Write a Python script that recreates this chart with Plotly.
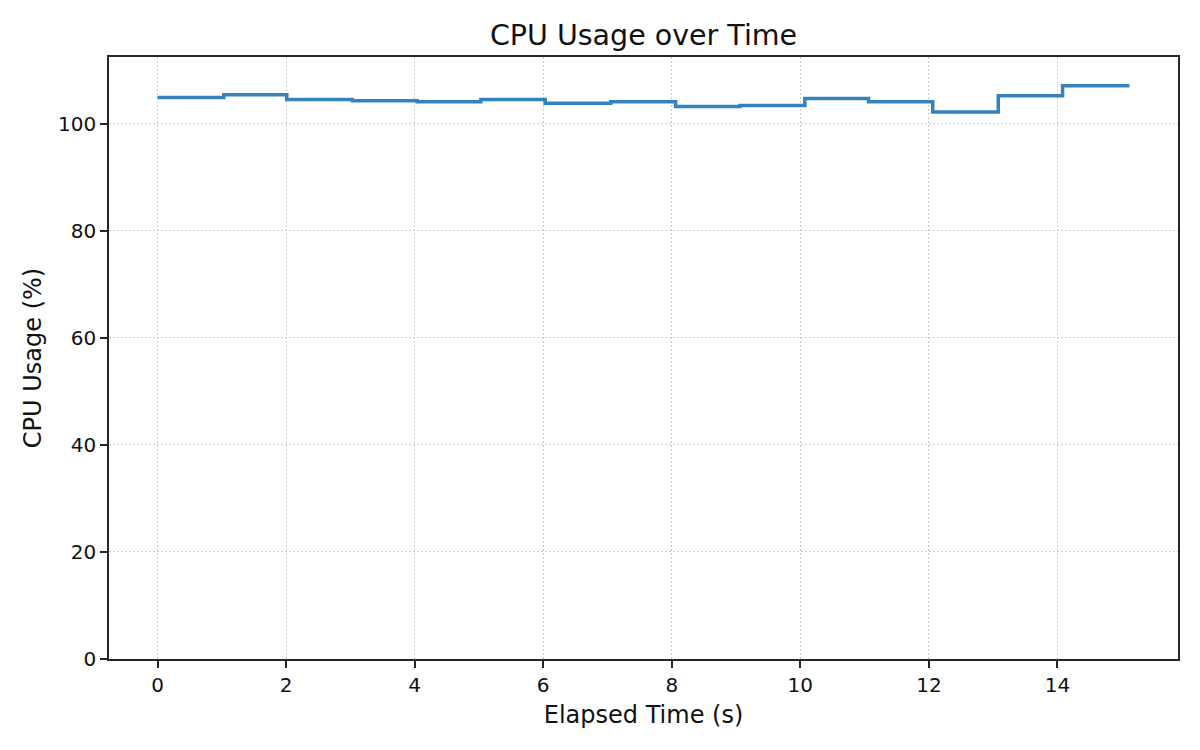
import plotly.graph_objects as go

# Data (step plot, post-style)
elapsed_time = [0.0, 1.03, 2.01, 3.03, 4.04, 5.03, 6.03, 7.05, 8.06, 9.06,
                10.07, 11.06, 12.06, 13.08, 14.08, 15.12]
cpu_usage = [104.9, 105.4, 104.5, 104.3, 104.1, 104.5, 103.8, 104.1, 103.2, 103.4,
             104.7, 104.1, 102.2, 105.2, 107.1, 107.1]

x_ticks = [0, 2, 4, 6, 8, 10, 12, 14]
y_ticks = [0, 20, 40, 60, 80, 100]

FONT = "DejaVu Sans"
AXIS_COLOR = "#262626"

xmin, xmax = min(elapsed_time), max(elapsed_time)
xpad = 0.05 * (xmax - xmin)
ymax = max(cpu_usage) * 1.05

fig = go.Figure()
fig.add_trace(go.Scatter(
    x=elapsed_time, y=cpu_usage, mode="lines",
    line=dict(shape="hv", color="#3383be", width=3.5),
    showlegend=False,
))

axis_common = dict(
    showline=True, linecolor=AXIS_COLOR, linewidth=1.6, mirror=True,
    ticks="outside", ticklen=7, tickwidth=1.6, tickcolor=AXIS_COLOR,
    showgrid=True, gridcolor="#cdcdcd", gridwidth=1.2, griddash="1.5px,2.5px",
    zeroline=False,
    tickfont=dict(family=FONT, size=20, color="#111111"),
)

fig.update_layout(
    width=1200, height=750,
    paper_bgcolor="white", plot_bgcolor="white",
    margin=dict(l=109, r=22, t=57, b=91, autoexpand=False),
    title=dict(text="CPU Usage over Time", x=0.5, xref="paper", xanchor="center",
               y=1, yref="paper", yanchor="bottom", pad=dict(b=12),
               font=dict(family=FONT, size=28.5, color="#111111")),
    xaxis=dict(axis_common, range=[xmin - xpad, xmax + xpad], tickvals=x_ticks,
               title=dict(text="Elapsed Time (s)", standoff=10,
                          font=dict(family=FONT, size=24, color="#111111"))),
    yaxis=dict(axis_common, range=[0, ymax], tickvals=y_ticks,
               title=dict(text="CPU Usage (%)", standoff=10,
                          font=dict(family=FONT, size=24, color="#111111"))),
)

fig.write_html("out.html", config={"displayModeBar": False})

# remove the default browser body margin so the figure sits at the page origin
with open("out.html", "r", encoding="utf-8") as f:
    html = f.read()
html = html.replace("<body>", '<body style="margin:0;padding:0;">', 1)
with open("out.html", "w", encoding="utf-8") as f:
    f.write(html)
